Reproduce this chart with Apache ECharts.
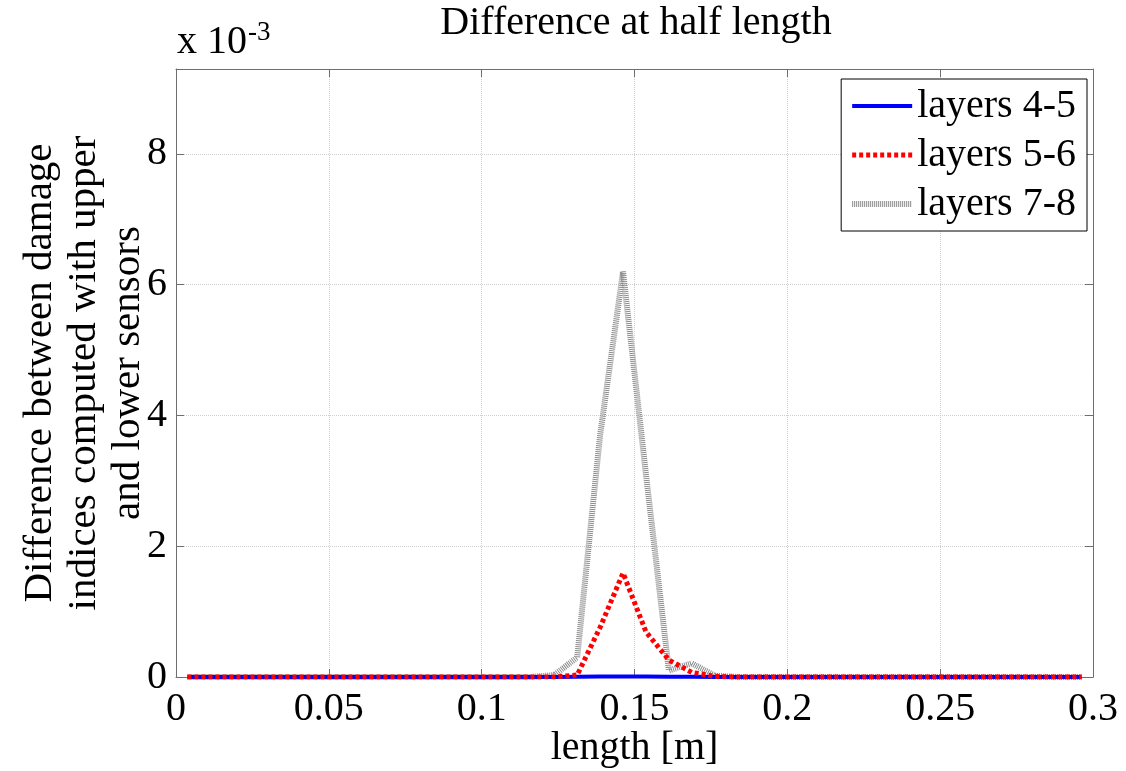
<!DOCTYPE html>
<html>
<head>
<meta charset="utf-8">
<script src="https://cdn.jsdelivr.net/npm/echarts@6/dist/echarts.min.js"></script>
<style>
html,body{margin:0;padding:0;background:#fff;}
#chart{width:1126px;height:771px;}
</style>
</head>
<body>
<div id="chart"></div>
<script>
// ---- data (values in units of 1e-3) ----
var lengths = [0.00375,0.01125,0.01875,0.02625,0.03375,0.04125,0.04875,0.05625,0.06375,0.07125,
               0.07875,0.08625,0.09375,0.10125,0.10875,0.11625,0.12375,0.13125,0.13875,0.14625,
               0.15375,0.16125,0.16875,0.17625,0.18375,0.19125,0.19875,0.20625,0.21375,0.22125,
               0.22875,0.23625,0.24375,0.25125,0.25875,0.26625,0.27375,0.28125,0.28875,0.29625];
var layers45 = [0,0,0,0,0,0,0,0,0,0, 0,0,0,0,0,0,0,0.004,0.006,0.008, 0.006,0.004,0.002,0,0,0,0,0,0,0, 0,0,0,0,0,0,0,0,0,0];
var layers56 = [0,0,0,0,0,0,0,0,0,0, 0,0,0,0,0,0,0,0.03,0.76,1.59, 0.69,0.26,0.07,0.01,0,0,0,0,0,0, 0,0,0,0,0,0,0,0,0,0];
var layers78 = [0,0,0,0,0,0,0,0,0,0, 0,0,0,0,0,0,0.03,0.3,3.7,6.2, 3.1,0.1,0.21,0.02,0,0,0,0,0,0, 0,0,0,0,0,0,0,0,0,0];
var seriesNames = ['layers 4-5','layers 5-6','layers 7-8'];
var xTickLabels = ['0','0.05','0.1','0.15','0.2','0.25','0.3'];
var yTickLabels = ['0','2','4','6','8'];

function pairs(ys){ return lengths.map(function(x,i){ return [x, ys[i]]; }); }

var FONT = "'Liberation Serif','Times New Roman',serif";
var AX = '#6e6e6e';
var styles = [
  {color:'#0000ff', width:4, type:'solid'},
  {color:'#ff0000', width:5, type:[4,3]},
  {color:'#8a8a8a', width:6, type:[1,1]}
];

var chart = echarts.init(document.getElementById('chart'), null, {renderer:'canvas'});
var option = {
  animation:false,
  backgroundColor:'#fff',
  grid:{left:176, right:33, top:69, bottom:94, containLabel:false, outerBoundsMode:'none'},
  graphic:[
    {type:'text', style:{text:'Difference at half length', font:'40px '+FONT, fill:'#000', x:636, y:3, align:'center', verticalAlign:'top'}},
    {type:'text', style:{text:'x 10', font:'40px '+FONT, fill:'#000', x:177, y:62, verticalAlign:'bottom'}},
    {type:'text', style:{text:'-3', font:'27px '+FONT, fill:'#000', x:248, y:46, verticalAlign:'bottom'}}
  ],
  legend:{
    orient:'vertical', right:39, top:79,
    backgroundColor:'#fff', borderColor:'#000', borderWidth:1, borderRadius:0,
    padding:[7,11,7,8], itemGap:9, itemWidth:60, itemHeight:20,
    itemStyle:{opacity:0},
    textStyle:{fontFamily:FONT, fontSize:40, color:'#000', lineHeight:40, padding:[0,0,0,0]},
    data:seriesNames.map(function(n,i){ return {name:n, itemStyle:{opacity:0}, lineStyle:{color:styles[i].color, width:styles[i].width, type:styles[i].type}}; })
  },
  xAxis:[{
    type:'value', min:0, max:0.3, interval:0.05, position:'bottom',
    name:'length [m]', nameLocation:'middle', nameGap:51, nameMoveOverlap:false,
    nameTextStyle:{fontFamily:FONT, fontSize:40, color:'#000'},
    axisLine:{show:true, onZero:false, lineStyle:{color:AX, width:1}},
    axisTick:{show:true, inside:true, length:8, lineStyle:{color:AX}},
    axisLabel:{fontFamily:FONT, fontSize:40, color:'#000', margin:12,
      formatter:function(v){ var r=Math.round(v*100)/100; for(var i=0;i<xTickLabels.length;i++){ if(Number(xTickLabels[i])===r) return xTickLabels[i]; } return ''; }},
    splitLine:{show:true, lineStyle:{color:'#cfcfcf', type:'dotted', width:1}}
  },{
    type:'value', min:0, max:0.3, interval:0.05, position:'top',
    axisLine:{show:true, onZero:false, lineStyle:{color:AX, width:1}},
    axisTick:{show:true, inside:true, length:8, lineStyle:{color:AX}},
    axisLabel:{show:false}, splitLine:{show:false}
  }],
  yAxis:[{
    type:'value', min:0, max:9.3, interval:2, position:'left',
    name:'Difference between damage\nindices computed with upper\nand lower sensors',
    nameLocation:'middle', nameRotate:90, nameGap:26, nameMoveOverlap:false,
    nameTextStyle:{fontFamily:FONT, fontSize:41, color:'#000', lineHeight:44, align:'center'},
    axisLine:{show:true, onZero:false, lineStyle:{color:AX, width:1}},
    axisTick:{show:true, inside:true, length:8, lineStyle:{color:AX}},
    axisLabel:{fontFamily:FONT, fontSize:40, color:'#000', margin:9, showMaxLabel:false,
      formatter:function(v){ var s=String(Math.round(v*1000)/1000); return yTickLabels.indexOf(s)>=0 ? s : ''; }},
    splitLine:{show:true, lineStyle:{color:'#cfcfcf', type:'dotted', width:1}}
  },{
    type:'value', min:0, max:9.3, interval:2, position:'right',
    axisLine:{show:true, onZero:false, lineStyle:{color:AX, width:1}},
    axisTick:{show:true, inside:true, length:8, lineStyle:{color:AX}},
    axisLabel:{show:false}, splitLine:{show:false}
  }],
  series:[
    {name:seriesNames[2], type:'line', data:pairs(layers78), showSymbol:false, symbol:'none', z:2,
     lineStyle:styles[2], itemStyle:{color:styles[2].color}},
    {name:seriesNames[0], type:'line', data:pairs(layers45), showSymbol:false, symbol:'none', z:3,
     lineStyle:styles[0], itemStyle:{color:styles[0].color}},
    {name:seriesNames[1], type:'line', data:pairs(layers56), showSymbol:false, symbol:'none', z:4,
     lineStyle:styles[1], itemStyle:{color:styles[1].color}}
  ]
};
chart.setOption(option);
</script>
</body>
</html>
